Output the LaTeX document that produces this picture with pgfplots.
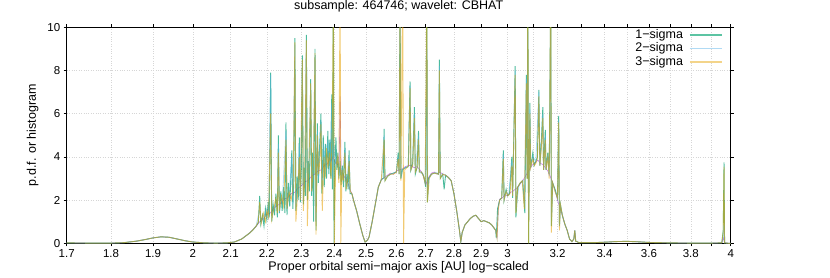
\documentclass[border=0pt]{standalone}
\usepackage{fontspec}
\setmainfont{Liberation Sans}
\usepackage{pgfplots}
\usepackage{pgfplotstable}
\pgfplotsset{compat=1.18}
\definecolor{cG}{HTML}{009E73}
\definecolor{cB}{HTML}{56B4E9}
\definecolor{cO}{HTML}{E69F00}
\definecolor{cP}{HTML}{9400D3}
\definecolor{lG}{HTML}{5CC4A3}
\definecolor{lB}{HTML}{B0DAF4}
\definecolor{lO}{HTML}{F3D48A}
\tikzset{
  sG/.style={draw=cG, color=cG, line width=0.9pt, opacity=0.7},
  sB/.style={draw=cB, color=cB, line width=0.9pt, opacity=0.45},
  sO/.style={draw=cO, color=cO, line width=0.9pt, opacity=0.55},
  sP/.style={draw=cP, color=cP, line width=0.6pt, opacity=0.5},
}
% shared smooth parts
\pgfplotstableread{
x y
1.70 0.02
1.75 0.01
1.80 0.01
1.83 0.03
1.86 0.10
1.88 0.17
1.90 0.25
1.92 0.30
1.94 0.28
1.96 0.20
1.98 0.12
2.00 0.06
2.03 0.02
2.06 0.01
2.09 0.02
2.11 0.06
2.13 0.20
2.15 0.45
}\baseA
\pgfplotstableread{
x y
2.455 2.30
2.46 2.00
2.47 1.50
2.48 0.90
2.49 0.35
2.497 0.06
2.505 0.15
2.51 0.30
2.52 1.00
2.53 1.80
2.54 2.60
2.55 2.95
}\baseC
\pgfplotstableread{
x y
2.78 3.05
2.79 2.90
2.80 2.30
2.81 1.50
2.82 0.60
2.825 0.08
2.83 0.50
2.84 0.85
2.85 1.00
2.86 1.15
2.87 1.25
2.88 1.30
2.89 1.15
2.90 1.00
2.91 1.05
2.92 1.00
2.93 0.95
2.94 0.85
2.955 0.60
}\baseE
\pgfplotstableread{
x y
3.22 1.30
3.23 0.90
3.24 0.60
3.25 0.20
3.26 0.08
3.268 0.20
3.272 0.60
3.276 0.10
3.29 0.03
3.35 0.03
3.40 0.05
3.45 0.08
3.50 0.09
3.55 0.07
3.60 0.04
3.70 0.02
3.80 0.01
3.90 0.01
3.955 0.02
}\baseG
% ---------- 1-sigma ----------
\pgfplotstableread{
x y
2.150 0.45
2.160 0.60
2.170 0.80
2.176 0.95
2.180 2.20
2.183 0.90
2.188 1.30
2.192 0.80
2.196 1.60
2.200 1.10
2.204 1.90
2.207 1.20
2.211 7.90
2.214 1.00
2.218 1.80
2.222 1.30
2.226 2.30
2.230 1.20
2.233 5.00
2.236 1.40
2.240 2.40
2.244 1.50
2.248 2.60
2.252 1.40
2.255 5.60
2.258 1.30
2.262 2.80
2.266 1.70
2.269 3.00
2.272 4.30
2.275 1.60
2.278 2.90
2.281 9.50
2.284 1.50
2.288 3.10
2.291 2.00
2.294 4.90
2.297 1.90
2.300 3.40
2.303 8.70
2.306 1.80
2.309 3.50
2.312 2.20
2.315 9.65
2.318 2.00
2.321 3.80
2.324 2.40
2.328 7.60
2.331 2.20
2.334 4.20
2.337 1.00
2.341 9.00
2.344 0.60
2.348 5.55
2.351 2.80
2.355 4.50
2.359 6.00
2.362 2.30
2.366 5.00
2.369 2.60
2.373 4.60
2.376 3.00
2.380 5.20
2.383 3.20
2.386 4.80
2.389 3.00
2.392 6.90
2.394 2.50
2.397 12.0
2.399 0.00
2.402 3.60
2.405 4.90
2.408 3.40
2.411 4.20
2.414 3.00
2.418 3.80
2.421 2.70
2.425 3.60
2.429 2.60
2.433 4.70
2.436 2.40
2.440 3.20
2.443 2.50
2.446 4.30
2.449 2.30
2.455 2.30
}\gB
\pgfplotstableread{
x y
2.550 2.95
2.556 3.00
2.559 5.30
2.562 2.90
2.570 3.10
2.580 3.20
2.590 3.25
2.600 3.30
2.606 4.20
2.609 3.20
2.612 12.0
2.615 3.00
2.620 3.40
2.630 3.50
2.640 3.55
2.646 7.50
2.649 3.40
2.655 3.70
2.661 6.30
2.664 3.20
2.670 3.50
2.675 5.20
2.678 3.30
2.685 3.30
2.690 3.20
2.695 3.00
2.700 2.60
2.704 12.0
2.706 1.90
2.710 3.00
2.720 3.20
2.730 3.25
2.740 3.25
2.745 3.20
2.748 8.50
2.751 3.00
2.760 3.20
2.765 2.50
2.770 3.15
2.780 3.05
}\gD
\pgfplotstableread{
x y
2.955 0.60
2.957 0.25
2.962 1.60
2.970 2.00
2.978 2.10
2.984 4.30
2.987 2.00
2.995 2.50
3.000 2.20
3.008 2.30
3.017 4.00
3.020 2.10
3.030 8.20
3.033 1.20
3.040 2.60
3.050 2.80
3.060 2.90
3.068 1.40
3.074 7.80
3.077 3.00
3.080 12.0
3.083 0.00
3.088 6.50
3.091 3.50
3.100 4.20
3.105 3.60
3.112 3.80
3.118 4.00
3.124 7.10
3.128 3.60
3.134 4.70
3.140 6.30
3.143 3.40
3.150 5.25
3.153 3.40
3.160 4.20
3.166 3.20
3.172 12.0
3.175 0.80
3.180 2.80
3.190 2.50
3.200 2.10
3.205 5.90
3.208 0.80
3.212 1.80
3.220 1.30
}\gF
\pgfplotstableread{
x y
3.955 0.02
3.962 0.60
3.966 3.75
3.969 0.02
3.99 0.00
4.00 0.00
}\gT
% ---------- 2-sigma ----------
\pgfplotstableread{
x y
2.15 0.45
2.16 0.60
2.17 0.80
2.18 1.60
2.185 1.00
2.19 1.20
2.20 1.60
2.205 1.10
2.211 7.80
2.214 1.20
2.22 1.60
2.23 2.00
2.233 4.60
2.236 1.50
2.245 2.10
2.255 5.20
2.258 1.60
2.265 2.40
2.272 4.00
2.275 1.80
2.281 9.20
2.284 1.60
2.29 2.60
2.294 4.60
2.297 2.00
2.303 8.40
2.306 2.00
2.31 3.00
2.315 9.30
2.318 2.20
2.322 3.40
2.328 7.30
2.331 2.40
2.336 3.80
2.341 8.70
2.344 1.00
2.348 5.20
2.352 3.00
2.359 5.70
2.362 2.60
2.368 4.60
2.373 3.20
2.380 4.80
2.386 3.40
2.392 6.50
2.395 3.00
2.40 4.50
2.405 3.60
2.41 4.00
2.415 3.20
2.42 3.60
2.425 3.00
2.433 4.40
2.437 2.60
2.446 4.00
2.45 2.40
2.455 2.30
}\bB
\pgfplotstableread{
x y
2.55 2.95
2.559 5.00
2.562 2.95
2.57 3.10
2.58 3.20
2.59 3.25
2.60 3.30
2.606 4.00
2.609 3.20
2.612 10.5
2.615 3.00
2.62 3.40
2.63 3.50
2.640 3.55
2.646 7.30
2.649 3.40
2.655 3.60
2.661 6.00
2.664 3.30
2.675 5.00
2.678 3.30
2.69 3.20
2.698 2.80
2.704 9.00
2.707 2.20
2.712 3.00
2.72 3.20
2.73 3.25
2.745 3.20
2.748 8.20
2.751 3.10
2.76 3.20
2.77 3.15
2.78 3.05
}\bD
\pgfplotstableread{
x y
2.955 0.60
2.96 0.25
2.965 1.60
2.97 2.00
2.978 2.10
2.984 4.10
2.987 2.00
2.995 2.40
3.005 2.25
3.017 3.80
3.020 2.20
3.030 8.00
3.033 1.60
3.045 2.70
3.058 2.90
3.066 1.80
3.074 7.60
3.077 3.20
3.080 9.80
3.083 1.20
3.088 6.20
3.091 3.50
3.100 4.00
3.112 3.80
3.124 7.00
3.128 3.60
3.134 4.50
3.140 6.00
3.143 3.40
3.150 5.00
3.153 3.40
3.160 4.10
3.166 3.10
3.172 9.90
3.175 1.20
3.180 2.80
3.190 2.40
3.200 2.10
3.205 5.70
3.208 0.80
3.212 1.80
3.22 1.30
}\bF
\pgfplotstableread{
x y
3.955 0.02
3.962 0.20
3.966 0.90
3.969 0.02
3.99 0.00
4.00 0.00
}\bT
% ---------- 3-sigma ----------
\pgfplotstableread{
x y
2.15 0.45
2.16 0.60
2.17 0.80
2.176 1.00
2.180 1.90
2.184 0.90
2.19 1.40
2.196 1.00
2.20 1.50
2.205 1.20
2.211 6.00
2.214 1.10
2.22 1.60
2.226 2.10
2.23 1.40
2.233 4.20
2.236 1.50
2.242 2.20
2.248 1.70
2.255 4.80
2.258 1.60
2.264 2.40
2.270 2.00
2.276 2.60
2.281 9.30
2.284 1.00
2.290 2.60
2.294 4.00
2.297 2.00
2.303 8.50
2.306 1.50
2.310 2.90
2.315 9.40
2.318 0.80
2.322 3.20
2.328 7.40
2.331 2.40
2.336 3.60
2.341 8.80
2.344 0.40
2.348 5.00
2.352 3.20
2.356 3.90
2.359 5.50
2.363 1.50
2.368 4.00
2.372 3.00
2.376 4.40
2.380 3.50
2.385 4.20
2.390 3.00
2.394 5.50
2.397 12.0
2.400 0.00
2.404 3.50
2.410 4.00
2.414 2.80
2.418 12.0
2.420 0.00
2.424 3.40
2.428 2.90
2.433 4.20
2.437 2.50
2.442 3.00
2.446 3.80
2.450 2.40
2.455 2.30
}\oB
\pgfplotstableread{
x y
2.55 2.95
2.559 4.80
2.562 2.90
2.57 3.10
2.58 3.20
2.59 3.20
2.60 3.30
2.606 3.90
2.609 3.20
2.612 11.0
2.615 2.90
2.621 12.0
2.624 0.00
2.628 3.40
2.635 3.50
2.641 3.60
2.646 7.20
2.649 3.40
2.655 3.60
2.661 5.80
2.664 3.30
2.670 3.50
2.675 4.80
2.678 3.30
2.685 3.30
2.692 3.10
2.698 2.80
2.704 12.0
2.706 1.90
2.712 3.00
2.72 3.20
2.73 3.25
2.745 3.20
2.748 8.00
2.751 3.00
2.76 3.20
2.77 3.15
2.78 3.05
}\oD
\pgfplotstableread{
x y
2.955 0.60
2.96 0.25
2.965 1.60
2.97 2.00
2.978 2.10
2.984 3.90
2.987 2.00
2.995 2.40
3.002 2.20
3.010 2.30
3.017 3.60
3.020 2.20
3.030 7.80
3.033 1.40
3.040 2.60
3.050 2.80
3.058 2.90
3.066 1.60
3.074 7.40
3.077 3.00
3.080 12.0
3.083 0.00
3.088 6.00
3.091 3.50
3.100 3.90
3.106 3.60
3.112 3.70
3.118 3.90
3.124 6.80
3.128 3.60
3.134 4.40
3.140 5.80
3.143 3.40
3.150 4.80
3.153 3.40
3.160 4.00
3.166 3.00
3.172 12.0
3.175 0.50
3.180 2.80
3.190 2.40
3.200 2.10
3.205 5.60
3.208 0.60
3.212 1.80
3.22 1.30
}\oF
\pgfplotstableread{
x y
3.955 0.02
3.962 0.50
3.966 3.55
3.969 0.02
3.99 0.00
4.00 0.00
}\oT
% ---------- histogram ----------
\pgfplotstableread{
x y
2.15 0.45
2.16 0.62
2.17 0.78
2.18 1.00
2.19 1.12
2.20 1.35
2.21 1.40
2.22 1.62
2.23 1.75
2.24 1.85
2.25 2.05
2.26 2.10
2.27 2.30
2.28 2.35
2.29 2.55
2.30 2.65
2.31 2.85
2.32 2.90
2.33 3.10
2.34 3.20
2.35 3.35
2.36 3.40
2.37 3.60
2.38 3.70
2.385 3.95
2.39 3.80
2.395 4.00
2.40 3.85
2.405 3.70
2.41 3.65
2.415 3.70
2.418 6.80
2.421 3.40
2.43 3.10
2.44 2.90
2.45 2.45
2.455 2.30
}\pB
\pgfplotstableread{
x y
2.55 2.95
2.56 3.05
2.57 3.15
2.58 3.25
2.59 3.20
2.60 3.35
2.61 3.40
2.62 3.45
2.63 3.55
2.64 3.60
2.65 3.60
2.66 3.50
2.67 3.55
2.68 3.40
2.69 3.20
2.70 2.70
2.71 3.05
2.72 3.25
2.73 3.30
2.74 3.20
2.75 3.30
2.76 3.20
2.77 3.15
2.78 3.05
}\pD
\pgfplotstableread{
x y
2.955 0.60
2.96 0.30
2.965 1.70
2.97 2.05
2.98 2.10
2.99 2.25
3.00 2.20
3.01 2.35
3.02 2.40
3.03 2.50
3.04 2.60
3.05 2.75
3.06 2.90
3.07 3.10
3.08 3.30
3.09 3.50
3.10 3.65
3.11 3.75
3.12 3.85
3.13 3.70
3.14 3.65
3.15 3.50
3.16 3.35
3.17 3.10
3.18 2.80
3.19 2.45
3.20 2.00
3.21 1.65
3.22 1.30
}\pF
\pgfplotstableread{
x y
3.955 0.02
3.963 0.25
3.969 0.02
4.00 0.00
}\pT
\begin{document}
\begin{tikzpicture}
\begin{axis}[
  scale only axis, width=664pt, height=216pt,
  xmode=log, xmin=1.7, xmax=4, ymin=0, ymax=10,
  xtick={1.7,1.8,1.9,2,2.1,2.2,2.3,2.4,2.5,2.6,2.7,2.8,2.9,3,3.1,3.2,3.3,3.4,3.5,3.6,3.7,3.8,3.9,4},
  xticklabels={1.7,1.8,1.9,2,2.1,2.2,2.3,2.4,2.5,2.6,2.7,2.8,2.9,3,,3.2,,3.4,,3.6,,3.8,,4},
  minor xtick={},
  ytick={0,2,4,6,8,10},
  /pgf/number format/assume math mode=true,
  grid=major,
  major grid style={dotted, black!16, line width=0.5pt},
  tick align=outside, major tick length=3pt,
  tick style={black, line width=0.5pt},
  axis line style={black, line width=0.9pt},
  ticklabel style={font=\fontsize{11.5}{13}\selectfont},
  title={subsample: 464746; wavelet: CBHAT},
  title style={font=\fontsize{12.5}{15}\selectfont, at={(0.5,1)}, anchor=base, yshift=12.3pt},
  xlabel={Proper orbital semi−major axis [AU] log−scaled},
  xlabel style={font=\fontsize{12.5}{15}\selectfont, at={(0.5,0)}, anchor=base, yshift=-26.7pt},
  ylabel={p.d.f. or histogram},
  ylabel style={font=\fontsize{12.5}{15}\selectfont, at={(axis description cs:-0.0512,0.5)}, anchor=center},
  legend cell align=right, legend plot pos=right,
  legend image code/.code={\draw[#1] (0pt,0pt) -- (32pt,0pt);},
  legend style={draw=none, fill=none, at={(1,1)}, anchor=north east, xshift=-8pt, yshift=-1pt,
    inner sep=0pt, column sep=5pt, row sep=0pt,
    font=\fontsize{12.5}{15}\selectfont,
    nodes={inner sep=0.9pt, text height=9pt, text depth=2.5pt}},
]
% histogram
\addplot[sP, forget plot] table {\baseA};
\addplot[sP, forget plot] table {\pB};
\addplot[sP, forget plot] table {\baseC};
\addplot[sP, forget plot] table {\pD};
\addplot[sP, forget plot] table {\baseE};
\addplot[sP, forget plot] table {\pF};
\addplot[sP, forget plot] table {\baseG};
\addplot[sP, forget plot] table {\pT};
% 1-sigma
\addplot[sG, forget plot] table {\baseA};
\addplot[sG, forget plot] table {\gB};
\addplot[sG, forget plot] table {\baseC};
\addplot[sG, forget plot] table {\gD};
\addplot[sG, forget plot] table {\baseE};
\addplot[sG, forget plot] table {\gF};
\addplot[sG, forget plot] table {\baseG};
\addplot[sG, forget plot] table {\gT};
% 2-sigma
\addplot[sB, forget plot] table {\baseA};
\addplot[sB, forget plot] table {\bB};
\addplot[sB, forget plot] table {\baseC};
\addplot[sB, forget plot] table {\bD};
\addplot[sB, forget plot] table {\baseE};
\addplot[sB, forget plot] table {\bF};
\addplot[sB, forget plot] table {\baseG};
\addplot[sB, forget plot] table {\bT};
% 3-sigma
\addplot[sO, forget plot] table {\baseA};
\addplot[sO, forget plot] table {\oB};
\addplot[sO, forget plot] table {\baseC};
\addplot[sO, forget plot] table {\oD};
\addplot[sO, forget plot] table {\baseE};
\addplot[sO, forget plot] table {\oF};
\addplot[sO, forget plot] table {\baseG};
\addplot[sO, forget plot] table {\oT};
\addlegendimage{legend image code/.code={\draw[draw=lG, line width=1.6pt] (0pt,0pt) -- (32pt,0pt);}}
\addlegendentry{1−sigma}
\addlegendimage{legend image code/.code={\draw[draw=lB, line width=1.6pt] (0pt,0pt) -- (32pt,0pt);}}
\addlegendentry{2−sigma}
\addlegendimage{legend image code/.code={\draw[draw=lO, line width=1.6pt] (0pt,0pt) -- (32pt,0pt);}}
\addlegendentry{3−sigma}
\end{axis}
\pgfresetboundingbox
\path[use as bounding box] (-66.7pt,-33.7pt) rectangle (763.3pt,243.3pt);
\end{tikzpicture}
\end{document}
